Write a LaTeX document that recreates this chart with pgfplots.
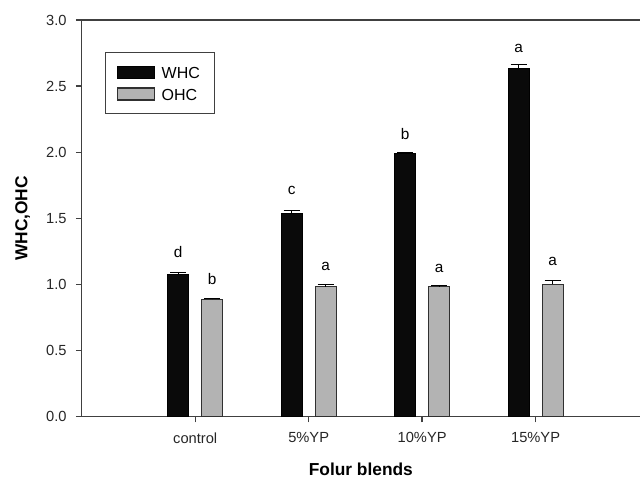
\documentclass[border=0pt]{standalone}
\usepackage{pgfplots}
\pgfplotsset{compat=1.18}
\usepackage{fontspec}
\setmainfont{Liberation Sans}
\definecolor{axgray}{HTML}{404040}
\definecolor{barblack}{HTML}{0A0A0A}
\definecolor{bargray}{HTML}{B3B3B3}
\definecolor{edgegray}{HTML}{303030}
\begin{document}
\begin{tikzpicture}
\useasboundingbox (-61.3pt,-46.7pt) rectangle (418.7pt,312.5pt);
\begin{axis}[
  scale only axis,
  width=418.7pt, height=297.5pt,
  xmin=0, xmax=4.92,
  ymin=0, ymax=3.0,
  axis x line=bottom, axis y line=left,
  axis line style={-, draw=axgray, line width=1pt},
  tick style={draw=axgray, line width=1pt},
  tick align=outside,
  major tick length=4.3pt,
  xtick={1,2,3,4},
  xticklabels={control,5\%YP,10\%YP,15\%YP},
  ytick={0,0.5,1.0,1.5,2.0,2.5,3.0},
  /pgf/number format/fixed,
  /pgf/number format/fixed zerofill,
  /pgf/number format/precision=1,
  /pgf/number format/assume math mode=true,
  ticklabel style={font=\fontsize{11}{13}\selectfont, text=black!85},
  yticklabel style={xshift=-3.5pt},
  xticklabel style={yshift=-4.2pt},
  ylabel={WHC,OHC},
  xlabel={Folur blends},
  label style={font=\fontsize{13}{15}\selectfont\bfseries},
  ylabel style={at={(axis description cs:-0.106,0.5)}, anchor=center},
  xlabel style={at={(axis description cs:0.5,0)}, anchor=base, inner sep=0pt, yshift=-44.2pt},
  ybar, bar width=0.185,
  clip=false,
  legend style={at={(0.0417,0.920)}, anchor=north west, draw=axgray, line width=0.8pt,
    inner xsep=8.8pt, inner ysep=10pt, row sep=6.6pt,
    font=\fontsize{12}{14}\selectfont,
    nodes={inner sep=0pt, text height=9pt, text depth=0pt, text width=31pt, align=left}},
  legend cell align=left,
  legend image code/.code={\draw[#1, line width=0.8pt] (0pt,-4.5pt) rectangle (27.5pt,4.5pt);},
  /tikz/every odd column/.append style={column sep=5pt},
]
\addplot[bar shift=-0.15, fill=barblack, draw=black, line width=0.8pt,
  error bars/.cd, y dir=plus, y explicit,
  error bar style={line width=0.8pt, black},
  error mark options={rotate=90, mark size=6pt, line width=0.8pt, black}]
  coordinates {(1,1.072) +- (0,0.017) (2,1.539) +- (0,0.017) (3,1.987) +- (0,0.008) (4,2.630) +- (0,0.036)};
\addlegendentry{WHC}
\addplot[bar shift=0.15, fill=bargray, draw=edgegray, line width=0.8pt,
  error bars/.cd, y dir=plus, y explicit,
  error bar style={line width=0.8pt, black},
  error mark options={rotate=90, mark size=6pt, line width=0.8pt, black}]
  coordinates {(1,0.888) +- (0,0.008) (2,0.983) +- (0,0.017) (3,0.983) +- (0,0.007) (4,1.001) +- (0,0.028)};
\addlegendentry{OHC}
\draw[axgray, line width=1pt] (rel axis cs:0,1) -- (rel axis cs:1,1);
\begin{scope}[every node/.style={anchor=base, font=\fontsize{11.5}{13}\selectfont, inner sep=0pt}]
\node at (axis cs:0.85,1.205) {d};
\node at (axis cs:1.15,0.996) {b};
\node at (axis cs:1.85,1.677) {c};
\node at (axis cs:2.15,1.104) {a};
\node at (axis cs:2.85,2.093) {b};
\node at (axis cs:3.15,1.092) {a};
\node at (axis cs:3.85,2.753) {a};
\node at (axis cs:4.15,1.147) {a};
\end{scope}
\end{axis}
\end{tikzpicture}
\end{document}
